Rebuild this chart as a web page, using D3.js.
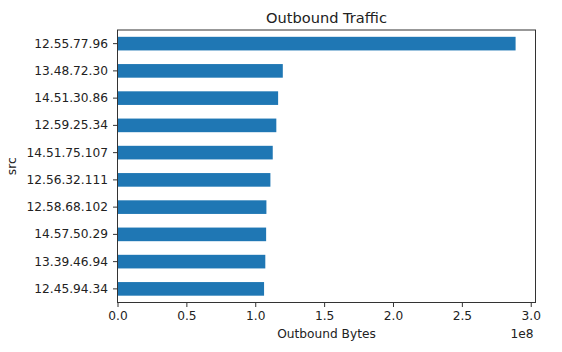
<!DOCTYPE html>
<html lang="en">
  <head>
    <meta charset="utf-8">
    <title>Outbound Traffic</title>
    <style>
      body { margin: 0; background: #fff; }
      svg { display: block; font-family: "DejaVu Sans", sans-serif; }
    </style>
    <script src="https://d3js.org/d3.v7.min.js"></script>
  </head>
  <body>
    <script>

    // data (bytes)
    const sources = ["12.55.77.96","13.48.72.30","14.51.30.86","12.59.25.34","14.51.75.107",
                     "12.56.32.111","12.58.68.102","14.57.50.29","13.39.46.94","12.45.94.34"];
    const outbound = [2.89e8,1.200e8,1.166e8,1.153e8,1.127e8,1.110e8,1.081e8,1.079e8,1.073e8,1.064e8];
    const xTicks = [0,0.5e8,1e8,1.5e8,2e8,2.5e8,3e8];

    const W = 562, H = 352;
    const margin = { top: 30, left: 117.5, right: 26.5, bottom: 49.5 };

    const svg = d3.select("body")
      .append("svg")
      .attr("width",W)
      .attr("height",H);

    const data = sources.map((s,i) => ({src:s, val:outbound[i]}));

    const x = d3.scaleLinear()
      .domain([0, d3.max(outbound)*1.05])
      .range([margin.left, W-margin.right]);

    const y = d3.scaleBand()
      .domain(sources)
      .range([margin.top, H-margin.bottom])
      .paddingInner(0.5)
      .paddingOuter(0.25);

    svg.append("g")
      .selectAll("rect")
      .data(data)
      .join("rect")
      .attr("x",x(0))
      .attr("y",d=>y(d.src))
      .attr("width",d=>x(d.val)-x(0))
      .attr("height",y.bandwidth())
      .attr("fill","#1f77b4");

    const xAxis = svg.append("g")
      .attr("transform",`translate(0,${H-margin.bottom})`)
      .call(d3.axisBottom(x).tickValues(xTicks).tickFormat(d=>(d/1e8).toFixed(1)).tickSizeOuter(0).tickSize(4.5).tickPadding(4));

    const yAxis = svg.append("g")
      .attr("transform",`translate(${margin.left},0)`)
      .call(d3.axisLeft(y).tickSizeOuter(0).tickSize(4.5).tickPadding(5));

    [xAxis,yAxis].forEach(g => {
      g.select(".domain").remove();
      g.selectAll("line").attr("stroke","#333");
      g.selectAll("text").attr("fill","#222").style("font-size","12.2px").style("font-family","DejaVu Sans");
    });

    // frame
    svg.append("rect")
      .attr("x",margin.left)
      .attr("y",margin.top)
      .attr("width",W-margin.right-margin.left)
      .attr("height",H-margin.bottom-margin.top)
      .attr("fill","none")
      .attr("stroke","#333")
      .attr("stroke-width",1);

    svg.append("text")
      .attr("x",(margin.left+W-margin.right)/2)
      .attr("y",23)
      .style("text-anchor","middle")
      .style("font-size","14.6px")
      .attr("fill","#222")
      .text("Outbound Traffic");

    svg.append("text")
      .attr("x",(margin.left+W-margin.right)/2)
      .attr("y",338)
      .style("text-anchor","middle")
      .style("font-size","12.2px")
      .attr("fill","#222")
      .text("Outbound Bytes");

    svg.append("text")
      .attr("x",W-margin.right-2)
      .attr("y",338)
      .style("text-anchor","end")
      .style("font-size","12.2px")
      .attr("fill","#222")
      .text("1e8");

    svg.append("text")
      .attr("transform",`translate(16,${(margin.top+H-margin.bottom)/2}) rotate(-90)`)
      .style("text-anchor","middle")
      .style("font-size","12.2px")
      .attr("fill","#222")
      .text("src");

    </script>
  </body>
</html>
